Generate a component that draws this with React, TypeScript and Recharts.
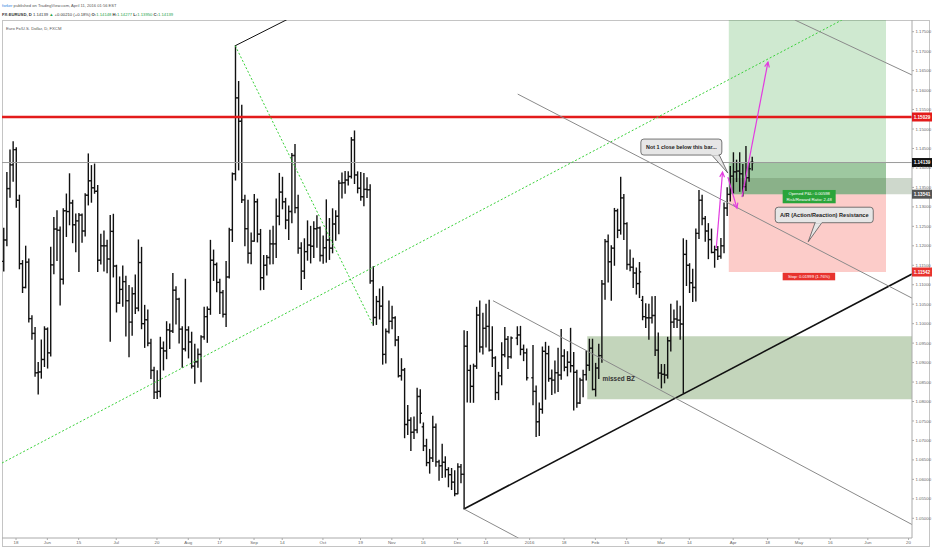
import React from "react";
import {
  ComposedChart,
  Bar,
  XAxis,
  YAxis,
  ReferenceLine,
  ReferenceArea,
  ReferenceDot,
} from "recharts";

// one row per weekday: [open, high, low, close], null = no session
type Ohlc = [number, number, number, number] | null;

// weekday counter, 0 = Mon 18 May 2015 (the first "18" on the time axis)
const firstDay = -4; // Tue 12 May 2015

const may2015: Ohlc[] = [
  [1.116, 1.1245, 1.1135, 1.1215], [1.1215, 1.1388, 1.12, 1.1347], [1.1347, 1.1446, 1.1325, 1.1408],
  [1.1408, 1.1467, 1.1366, 1.1447], [1.1447, 1.1452, 1.1299, 1.1317], [1.1317, 1.133, 1.1141, 1.1154],
  [1.1154, 1.1162, 1.108, 1.1093], [1.1093, 1.1199, 1.1092, 1.1158], [1.1158, 1.1166, 1.1004, 1.1013],
  [1.1013, 1.102, 1.096, 1.0975], [1.0975, 1.099, 1.0865, 1.0874], [1.0874, 1.09, 1.0819, 1.0876],
  [1.0876, 1.0958, 1.086, 1.0908], [1.0908, 1.0992, 1.089, 1.0986],
];
const jun2015: Ohlc[] = [
  [1.0986, 1.0989, 1.0886, 1.0925], [1.0925, 1.1196, 1.0917, 1.1151], [1.1151, 1.1273, 1.1128, 1.1243],
  [1.1243, 1.129, 1.1162, 1.124], [1.124, 1.1248, 1.1048, 1.1114], [1.1114, 1.1295, 1.1102, 1.129],
  [1.129, 1.1333, 1.1224, 1.1288], [1.1288, 1.1385, 1.1254, 1.131], [1.131, 1.1317, 1.1208, 1.1254],
  [1.1254, 1.1282, 1.1185, 1.1264], [1.1264, 1.1283, 1.1134, 1.1279], [1.1279, 1.1282, 1.1209, 1.1238],
  [1.1238, 1.1334, 1.1225, 1.133], [1.133, 1.1436, 1.1305, 1.1367], [1.1367, 1.1406, 1.1312, 1.1349],
  [1.1349, 1.141, 1.1335, 1.134], [1.134, 1.1355, 1.1134, 1.1163], [1.1163, 1.123, 1.1153, 1.12],
  [1.12, 1.1238, 1.1135, 1.12], [1.12, 1.1214, 1.1131, 1.1166], [1.1166, 1.1278, 1.0955, 1.1237],
  [1.1237, 1.1281, 1.112, 1.1148],
];
const jul2015: Ohlc[] = [
  [1.1148, 1.115, 1.103, 1.1053], [1.1053, 1.112, 1.1052, 1.1088], [1.1088, 1.1148, 1.1045, 1.1108],
  [1.1108, 1.1122, 1.0968, 1.1059], [1.1059, 1.1098, 1.0915, 1.1004], [1.1004, 1.1092, 1.097, 1.1077],
  [1.1077, 1.1125, 1.1026, 1.104], [1.104, 1.1215, 1.1033, 1.1157], [1.1157, 1.1196, 1.0987, 1.1],
  [1.1, 1.1047, 1.0939, 1.101], [1.101, 1.1035, 1.0943, 1.095], [1.095, 1.096, 1.0859, 1.088],
  [1.088, 1.0888, 1.0808, 1.0824], [1.0824, 1.0879, 1.0808, 1.0826], [1.0826, 1.0965, 1.0812, 1.0937],
  [1.0937, 1.0953, 1.0881, 1.093], [1.093, 1.1005, 1.091, 1.0984], [1.0984, 1.0999, 1.0936, 1.0981],
  [1.0981, 1.1129, 1.0977, 1.1086], [1.1086, 1.1095, 1.0999, 1.1063], [1.1063, 1.1065, 1.095, 1.0986],
  [1.0986, 1.0992, 1.0888, 1.0935], [1.0935, 1.1114, 1.093, 1.0984],
];
const aug2015: Ohlc[] = [
  [1.0984, 1.0992, 1.0912, 1.0953], [1.0953, 1.0978, 1.0886, 1.0891], [1.0891, 1.0947, 1.0847, 1.0902],
  [1.0902, 1.0935, 1.0888, 1.0921], [1.0921, 1.0969, 1.0851, 1.0966], [1.0966, 1.1042, 1.096, 1.1018],
  [1.1018, 1.1043, 1.0952, 1.1037], [1.1037, 1.1214, 1.1024, 1.1163], [1.1163, 1.1189, 1.1111, 1.1152],
  [1.1152, 1.1156, 1.1082, 1.1106], [1.1106, 1.1114, 1.1026, 1.108], [1.108, 1.1085, 1.1017, 1.1024],
  [1.1024, 1.116, 1.0993, 1.112], [1.112, 1.1245, 1.1117, 1.1241], [1.1241, 1.1387, 1.1211, 1.1385],
  [1.1385, 1.1714, 1.1369, 1.158], [1.158, 1.1622, 1.1395, 1.152], [1.152, 1.1561, 1.1311, 1.1318],
  [1.1318, 1.133, 1.12, 1.1244], [1.1244, 1.1317, 1.1156, 1.1181], [1.1181, 1.1233, 1.1154, 1.1212],
];
const sep2015: Ohlc[] = [
  [1.1212, 1.1332, 1.1212, 1.1313], [1.1313, 1.132, 1.121, 1.123], [1.123, 1.1242, 1.1087, 1.1118],
  [1.1118, 1.1175, 1.1088, 1.115], [1.115, 1.1175, 1.1125, 1.117], [1.117, 1.124, 1.1153, 1.1205],
  [1.1205, 1.125, 1.1154, 1.1205], [1.1205, 1.132, 1.117, 1.1276], [1.1276, 1.1386, 1.1254, 1.1338],
  [1.1338, 1.1376, 1.1295, 1.1313], [1.1313, 1.1322, 1.1244, 1.1266], [1.1266, 1.1302, 1.1216, 1.1288],
  [1.1288, 1.1437, 1.1259, 1.1432], [1.1432, 1.146, 1.1285, 1.1298], [1.1298, 1.133, 1.1181, 1.1194],
  [1.1194, 1.1208, 1.1088, 1.1135], [1.1135, 1.1218, 1.1116, 1.1185], [1.1185, 1.1264, 1.1163, 1.1202],
  [1.1202, 1.125, 1.1156, 1.1199], [1.1199, 1.1262, 1.117, 1.1244], [1.1244, 1.1277, 1.1196, 1.1246],
  [1.1246, 1.1248, 1.1161, 1.1175],
];
const oct2015: Ohlc[] = [
  [1.1175, 1.1225, 1.1155, 1.1195], [1.1195, 1.1318, 1.1158, 1.1215], [1.1215, 1.127, 1.1165, 1.1194],
  [1.1194, 1.1295, 1.1182, 1.1256], [1.1256, 1.129, 1.1214, 1.1276], [1.1276, 1.1367, 1.1231, 1.1361],
  [1.1361, 1.1387, 1.1323, 1.1362], [1.1362, 1.1391, 1.1335, 1.1369], [1.1369, 1.139, 1.1356, 1.1378],
  [1.1378, 1.1478, 1.1374, 1.1472], [1.1472, 1.1495, 1.136, 1.1382], [1.1382, 1.139, 1.1336, 1.1348],
  [1.1348, 1.1388, 1.1317, 1.1326], [1.1326, 1.1386, 1.1303, 1.1345], [1.1345, 1.1375, 1.1324, 1.1344],
  [1.1344, 1.1357, 1.1104, 1.111], [1.111, 1.1146, 1.0996, 1.1016], [1.1016, 1.107, 1.0998, 1.1057],
  [1.1057, 1.1089, 1.1012, 1.1045], [1.1045, 1.1095, 1.0896, 1.0921], [1.0921, 1.0986, 1.0899, 1.098],
  [1.098, 1.1058, 1.0976, 1.1006],
];
const nov2015: Ohlc[] = [
  [1.1006, 1.1045, 1.0987, 1.1015], [1.1015, 1.1018, 1.0943, 1.0958], [1.0958, 1.0967, 1.0863, 1.0866],
  [1.0866, 1.091, 1.0855, 1.0881], [1.0881, 1.0885, 1.0707, 1.0741], [1.0741, 1.079, 1.0715, 1.0752],
  [1.0752, 1.0758, 1.0674, 1.0721], [1.0721, 1.076, 1.0705, 1.0727], [1.0727, 1.0834, 1.072, 1.0813],
  [1.0813, 1.083, 1.0745, 1.077], [1.0735, 1.0745, 1.0674, 1.0686], [1.0686, 1.0703, 1.0635, 1.0643],
  [1.0643, 1.0677, 1.0616, 1.0655], [1.0655, 1.0762, 1.0646, 1.0734], [1.0734, 1.0742, 1.0634, 1.0645],
  [1.0645, 1.0649, 1.0598, 1.0635], [1.0635, 1.069, 1.0605, 1.0644], [1.0644, 1.0658, 1.0606, 1.0625],
  [1.0625, 1.063, 1.0581, 1.0612], [1.0612, 1.0628, 1.0574, 1.0593], [1.0593, 1.0622, 1.0558, 1.0563],
];
const dec2015: Ohlc[] = [
  [1.0563, 1.064, 1.0563, 1.0632], [1.0632, 1.0638, 1.0591, 1.0613], [1.0613, 1.0982, 1.0524, 1.0942],
  [1.0942, 1.098, 1.0799, 1.088], [1.088, 1.0893, 1.0798, 1.0839], [1.0839, 1.0896, 1.0798, 1.0891],
  [1.0891, 1.1042, 1.0885, 1.1022], [1.1022, 1.1058, 1.0927, 1.094], [1.094, 1.1027, 1.0922, 1.0988],
  [1.0988, 1.105, 1.094, 1.0993], [1.0993, 1.106, 1.093, 1.0932], [1.0932, 1.0992, 1.089, 1.0912],
  [1.0912, 1.0915, 1.0805, 1.0823], [1.0823, 1.0875, 1.0805, 1.0866], [1.0866, 1.0951, 1.0843, 1.092],
  [1.092, 1.099, 1.0915, 1.096], [1.096, 1.0967, 1.0885, 1.0915], [1.0915, 1.0966, 1.0912, 1.0963],
  null, [1.0963, 1.0992, 1.0946, 1.0971], [1.0971, 1.0993, 1.092, 1.0934], [1.0934, 1.0945, 1.0905, 1.0925],
  [1.0925, 1.0935, 1.0855, 1.0861],
];
const jan2016: Ohlc[] = [
  null, [1.0861, 1.0944, 1.0792, 1.0826], [1.0826, 1.084, 1.071, 1.0748], [1.0748, 1.0796, 1.0713, 1.078],
  [1.078, 1.094, 1.077, 1.0929], [1.0929, 1.0952, 1.0806, 1.0923], [1.0923, 1.0942, 1.0852, 1.0859],
  [1.0859, 1.0881, 1.0818, 1.0855], [1.0855, 1.0904, 1.0822, 1.0874], [1.0874, 1.0937, 1.0826, 1.0868],
  [1.0868, 1.0985, 1.0857, 1.0917], [1.0917, 1.0933, 1.0879, 1.0888], [1.0888, 1.0928, 1.0866, 1.0901],
  [1.0901, 1.0988, 1.0876, 1.0892], [1.0892, 1.0926, 1.0778, 1.0875], [1.0875, 1.088, 1.0785, 1.0796],
  [1.0796, 1.086, 1.0795, 1.0855], [1.0855, 1.088, 1.0812, 1.0869], [1.0869, 1.093, 1.0855, 1.0893],
  [1.0893, 1.096, 1.088, 1.0937], [1.0937, 1.096, 1.083, 1.0831],
];
const feb2016: Ohlc[] = [
  [1.0831, 1.0898, 1.0814, 1.0886], [1.0886, 1.0947, 1.0859, 1.0918], [1.0918, 1.1111, 1.0901, 1.1102],
  [1.1102, 1.1216, 1.1063, 1.1211], [1.1211, 1.1228, 1.1107, 1.1159], [1.1159, 1.12, 1.106, 1.1194],
  [1.1194, 1.1296, 1.115, 1.129], [1.129, 1.1294, 1.1221, 1.124], [1.124, 1.1376, 1.123, 1.1323],
  [1.1323, 1.1332, 1.1216, 1.1257], [1.1257, 1.1259, 1.114, 1.1152], [1.1152, 1.1189, 1.1136, 1.1145],
  [1.1145, 1.1168, 1.1093, 1.113], [1.113, 1.1143, 1.1076, 1.1103], [1.1103, 1.1157, 1.1067, 1.1133],
  [1.106, 1.107, 1.101, 1.1018], [1.1018, 1.1051, 1.099, 1.1015], [1.1015, 1.105, 1.096, 1.1015],
  [1.1015, 1.1069, 1.1002, 1.1021], [1.1021, 1.107, 1.0918, 1.0932], [1.0932, 1.0976, 1.086, 1.0873],
];
const mar2016: Ohlc[] = [
  [1.0873, 1.0895, 1.0835, 1.087], [1.087, 1.0895, 1.0848, 1.0868], [1.0868, 1.0965, 1.086, 1.0956],
  [1.0956, 1.105, 1.093, 1.1004], [1.1004, 1.1035, 1.099, 1.1012], [1.1012, 1.1058, 1.099, 1.1009],
  [1.1009, 1.1045, 1.096, 1.0999], [1.0999, 1.1218, 1.0822, 1.1178], [1.1178, 1.1214, 1.1098, 1.115],
  [1.115, 1.1154, 1.108, 1.1105], [1.1105, 1.114, 1.1057, 1.1093], [1.1093, 1.1243, 1.1058, 1.1232],
  [1.1232, 1.1342, 1.1219, 1.1317], [1.1317, 1.133, 1.1254, 1.127], [1.127, 1.1275, 1.1212, 1.1238],
  [1.1238, 1.1257, 1.1167, 1.1216], [1.1216, 1.1243, 1.1182, 1.1183], [1.1183, 1.1199, 1.1145, 1.119],
  [1.119, 1.1198, 1.1165, 1.1173], [1.1173, 1.1219, 1.1168, 1.12], [1.12, 1.131, 1.1182, 1.1297],
  [1.1297, 1.1349, 1.1278, 1.1332], [1.1332, 1.1404, 1.1315, 1.1379],
];
const apr2016: Ohlc[] = [
  [1.1379, 1.1439, 1.1336, 1.139], [1.139, 1.142, 1.1365, 1.1392], [1.1392, 1.1439, 1.134, 1.1385],
  [1.1385, 1.1409, 1.1328, 1.1352], [1.1352, 1.1455, 1.1342, 1.1375], [1.1375, 1.1414, 1.1366, 1.1398],
  [1.14148, 1.14277, 1.1395, 1.14139],
];

const months = [
  may2015, jun2015, jul2015, aug2015, sep2015, oct2015,
  nov2015, dec2015, jan2016, feb2016, mar2016, apr2016,
];

const dayTicks = [0, 10, 20, 32, 45, 55, 65, 76, 85, 98, 110, 120, 130, 141, 150, 164, 175, 185, 195, 206, 215, 229, 240, 250, 260, 272, 285];
const dayLabels = ["18", "Jun", "15", "Jul", "20", "Aug", "17", "Sep", "14", "Oct", "19", "Nov", "16", "Dec", "14", "2016", "18", "Feb", "15", "Mar", "14", "Apr", "18", "May", "16", "Jun", "20"];

const priceTicks = [
  1.05, 1.055, 1.06, 1.065, 1.07, 1.075, 1.08, 1.085, 1.09, 1.095, 1.1, 1.105, 1.11,
  1.115, 1.12, 1.125, 1.13, 1.135, 1.14, 1.145, 1.15, 1.155, 1.16, 1.165, 1.17, 1.175,
];

const lastPrice = 1.14139;
const resistance = 1.15309;
const entryPrice = 1.13326;
const stopPrice = 1.11327;

const data = months
  .flat()
  .map((row, k) =>
    row
      ? { day: firstDay + k, range: [row[2], row[1]], o: row[0], h: row[1], l: row[2], c: row[3] }
      : null
  )
  .filter(Boolean) as any[];

const FONT = "'Liberation Sans', Arial, sans-serif";
const MAGENTA = "#e23be0";

// OHLC bar: vertical high-low, open tick left, close tick right
function OhlcBar(props: any) {
  const { x, y, width, height, payload } = props;
  if (!payload || x == null) return null;
  const top = Math.min(y, y + height);
  const span = Math.abs(height);
  const cx = x + width / 2;
  const k = payload.h === payload.l ? 0 : span / (payload.h - payload.l);
  const yo = top + (payload.h - payload.o) * k;
  const yc = top + (payload.h - payload.c) * k;
  return (
    <g stroke="#111" strokeWidth={1.4}>
      <line x1={cx} x2={cx} y1={top - 0.5} y2={top + span + 0.5} />
      <line x1={cx - 1.7} x2={cx} y1={yo} y2={yo} />
      <line x1={cx} x2={cx + 1.7} y1={yc} y2={yc} />
    </g>
  );
}

function arrowLine(props: any) {
  const { x1, y1, x2, y2, clipPath } = props;
  const a = Math.atan2(y2 - y1, x2 - x1);
  const len = 5;
  const half = 2.4;
  const bx = x2 - len * Math.cos(a);
  const by = y2 - len * Math.sin(a);
  const px = -Math.sin(a) * half;
  const py = Math.cos(a) * half;
  return (
    <g clipPath={clipPath} stroke={MAGENTA} strokeWidth={1.2} fill="none">
      <line x1={x1} y1={y1} x2={x2} y2={y2} />
      <path d={`M${bx + px},${by + py} L${x2},${y2} L${bx - px},${by - py}`} />
    </g>
  );
}

// price tag in the right scale
function priceTag(text: string, bg: string) {
  return (props: any) => {
    const { cx, cy } = props;
    return (
      <g>
        <rect x={cx} y={cy - 4.5} width={20} height={9} fill={bg} />
        <text x={cx + 10} y={cy + 0.2} fontSize={4.6} fontWeight="bold" fill="#fff" textAnchor="middle" dominantBaseline="central" fontFamily={FONT}>
          {text}
        </text>
      </g>
    );
  };
}

function closeCallout(props: any) {
  const { cx, cy } = props;
  const bx = cx - 87;
  const by = cy - 34;
  return (
    <g fontFamily={FONT}>
      <path d={`M${cx - 17},${by + 15} L${cx},${cy} L${cx - 9},${by + 15} Z`} fill="#e6e6e6" stroke="#555" strokeWidth={0.8} />
      <rect x={bx} y={by} width={81} height={16} rx={3} fill="#e6e6e6" stroke="#555" strokeWidth={0.8} />
      <rect x={cx - 16.5} y={by + 14} width={7} height={2.5} fill="#e6e6e6" />
      <text x={bx + 40.5} y={by + 8.3} fontSize={5.4} fontWeight="bold" fill="#222" textAnchor="middle" dominantBaseline="central">
        Not 1 close below this bar...
      </text>
    </g>
  );
}

function arCallout(props: any) {
  const { cx, cy } = props;
  const bx = cx - 33;
  const by = cy - 34.5;
  return (
    <g fontFamily={FONT}>
      <path d={`M${cx + 7},${by + 15} L${cx},${cy} L${cx + 14},${by + 15} Z`} fill="#e6e6e6" stroke="#555" strokeWidth={0.8} />
      <rect x={bx} y={by} width={98} height={15.5} rx={3} fill="#e6e6e6" stroke="#555" strokeWidth={0.8} />
      <rect x={cx + 7.5} y={by + 13.5} width={6} height={2.5} fill="#e6e6e6" />
      <text x={bx + 49} y={by + 8} fontSize={5.6} fontWeight="bold" fill="#222" textAnchor="middle" dominantBaseline="central">
        A/R (Action/Reaction) Resistance
      </text>
    </g>
  );
}

function pnlBox(props: any) {
  const { cx, cy } = props;
  return (
    <g fontFamily={FONT}>
      <rect x={cx} y={cy} width={53} height={13.3} fill="#2aa43a" />
      <text x={cx + 26.5} y={cy + 4} fontSize={4.2} fill="#fff" textAnchor="middle" dominantBaseline="central">
        Opened P&amp;L: 0.00598
      </text>
      <text x={cx + 26.5} y={cy + 9.6} fontSize={4.2} fill="#fff" textAnchor="middle" dominantBaseline="central">
        Risk/Reward Ratio: 2.48
      </text>
    </g>
  );
}

function stopBox(props: any) {
  const { cx, cy } = props;
  return (
    <g fontFamily={FONT}>
      <rect x={cx} y={cy} width={52.5} height={7.6} fill="#e8332e" />
      <text x={cx + 26.25} y={cy + 3.9} fontSize={4.2} fill="#fff" textAnchor="middle" dominantBaseline="central">
        Stop: 0.01999 (1.76%)
      </text>
    </g>
  );
}

function zoneText(props: any) {
  const { cx, cy } = props;
  return (
    <text x={cx} y={cy} fontSize={6.4} fontWeight="bold" fill="#333" fontFamily={FONT}>
      missed BZ
    </text>
  );
}

export default function App() {
  return (
    <div style={{ position: "absolute", left: 0, top: 0, width: 932, height: 550, background: "#fff", overflow: "hidden" }}>
      <svg width={932} height={20} style={{ position: "absolute", left: 0, top: 0 }} fontFamily={FONT}>
        <text x={2} y={7.2} fontSize={4.1}>
          <tspan fill="#2b7de0">forker</tspan>
          <tspan fill="#555"> published on TradingView.com, April 11, 2016 01:56 EST</tspan>
        </text>
        <text x={2} y={15.8} fontSize={4.2} fill="#333">
          <tspan fontWeight="bold">FX:EURUSD, D </tspan>
          <tspan>1.14139 </tspan>
          <tspan fill="#26a34a">▲</tspan>
          <tspan> +0.00210 (+0.18%) </tspan>
          <tspan fontWeight="bold">O:</tspan>
          <tspan fill="#26a34a">1.14148 </tspan>
          <tspan fontWeight="bold">H:</tspan>
          <tspan fill="#26a34a">1.14277 </tspan>
          <tspan fontWeight="bold">L:</tspan>
          <tspan fill="#26a34a">1.13950 </tspan>
          <tspan fontWeight="bold">C:</tspan>
          <tspan fill="#26a34a">1.14139</tspan>
        </text>
      </svg>
      <div style={{ position: "absolute", left: 2, top: 20, width: 928, height: 527, border: "1px solid #c4c4c4", boxSizing: "border-box" }} />
      <div style={{ position: "absolute", left: 0, top: 0 }}>
        <ComposedChart width={932} height={550} data={data} margin={{ top: 20, right: 0, bottom: 0, left: 2 }}>
          <XAxis
            dataKey="day"
            type="number"
            domain={[-4.48, 286.1]}
            allowDataOverflow
            ticks={dayTicks}
            interval={0}
            tickFormatter={(v: number) => dayLabels[dayTicks.indexOf(v)] ?? ""}
            height={12}
            tickSize={2}
            tickMargin={1}
            tick={{ fontSize: 4.4, fill: "#666", fontFamily: FONT }}
            axisLine={{ stroke: "#aaa" }}
            tickLine={{ stroke: "#aaa" }}
          />
          <YAxis
            orientation="right"
            type="number"
            domain={[1.044939, 1.178006]}
            allowDataOverflow
            ticks={priceTicks}
            interval={0}
            tickFormatter={(v: number) => v.toFixed(5)}
            width={20}
            tickSize={2}
            tickMargin={1.5}
            tick={{ fontSize: 4.3, fill: "#666", fontFamily: FONT }}
            axisLine={{ stroke: "#aaa" }}
            tickLine={{ stroke: "#aaa" }}
          />

          {/* zones */}
          <ReferenceArea x1={182.4} x2={286.1} y1={1.08061} y2={1.09679} fill="#88ab77" fillOpacity={0.5} stroke="none" ifOverflow="hidden" />
          <ReferenceArea x1={227.6} x2={277.8} y1={entryPrice} y2={1.178} fill="#4caf50" fillOpacity={0.27} stroke="none" ifOverflow="hidden" />
          <ReferenceArea x1={227.6} x2={277.8} y1={stopPrice} y2={entryPrice} fill="#f44336" fillOpacity={0.27} stroke="none" ifOverflow="hidden" />
          <ReferenceArea x1={227.6} x2={277.8} y1={entryPrice} y2={lastPrice} fill="#2e7d32" fillOpacity={0.3} stroke="none" ifOverflow="hidden" />
          <ReferenceArea x1={227.6} x2={286.1} y1={entryPrice} y2={1.13739} fill="#5d7f55" fillOpacity={0.3} stroke="none" ifOverflow="hidden" />

          <Bar dataKey="range" shape={OhlcBar} isAnimationActive={false} />

          {/* horizontal levels */}
          <ReferenceLine y={resistance} stroke="#e31b1b" strokeWidth={2.5} ifOverflow="hidden" />
          <ReferenceLine y={lastPrice} stroke="#9a9a9a" strokeWidth={1} ifOverflow="hidden" />

          {/* trend lines */}
          <ReferenceLine segment={[{ x: 70, y: 1.1714 }, { x: 86.5, y: 1.1781 }]} stroke="#111" strokeWidth={1} ifOverflow="hidden" />
          <ReferenceLine segment={[{ x: 70, y: 1.1714 }, { x: 114, y: 1.0996 }]} stroke="#3ad13a" strokeWidth={1} strokeDasharray="2 2" ifOverflow="hidden" />
          <ReferenceLine segment={[{ x: -4.48, y: 1.0642 }, { x: 263.7, y: 1.178 }]} stroke="#3ad13a" strokeWidth={1} strokeDasharray="2 2" ifOverflow="hidden" />
          <ReferenceLine segment={[{ x: 143, y: 1.0524 }, { x: 286.1, y: 1.11276 }]} stroke="#111" strokeWidth={1.6} ifOverflow="hidden" />
          <ReferenceLine segment={[{ x: 160.2, y: 1.15897 }, { x: 286.1, y: 1.10656 }]} stroke="#8a8a8a" strokeWidth={1} ifOverflow="hidden" />
          <ReferenceLine segment={[{ x: 152.3, y: 1.1059 }, { x: 286.1, y: 1.0484 }]} stroke="#8a8a8a" strokeWidth={1} ifOverflow="hidden" />
          <ReferenceLine segment={[{ x: 143, y: 1.0524 }, { x: 160.5, y: 1.0449 }]} stroke="#8a8a8a" strokeWidth={1} ifOverflow="hidden" />
          <ReferenceLine segment={[{ x: 248.7, y: 1.178 }, { x: 286.1, y: 1.16388 }]} stroke="#8a8a8a" strokeWidth={1} ifOverflow="hidden" />

          {/* projected moves */}
          <ReferenceLine segment={[{ x: 223.6, y: 1.11939 }, { x: 225.6, y: 1.13893 }]} shape={arrowLine} ifOverflow="hidden" />
          <ReferenceLine segment={[{ x: 227.3, y: 1.13766 }, { x: 230.2, y: 1.12969 }]} shape={arrowLine} ifOverflow="hidden" />
          <ReferenceLine segment={[{ x: 231.8, y: 1.1325 }, { x: 240.1, y: 1.16718 }]} shape={arrowLine} ifOverflow="hidden" />

          {/* notes */}
          <ReferenceDot x={187.3} y={1.08527} r={1} shape={zoneText} ifOverflow="visible" />
          <ReferenceDot x={227.3} y={1.13869} r={1} shape={closeCallout} ifOverflow="visible" />
          <ReferenceDot x={252.97} y={1.12105} r={1} shape={arCallout} ifOverflow="visible" />
          <ReferenceDot x={244.8} y={1.13434} r={1} shape={pnlBox} ifOverflow="visible" />
          <ReferenceDot x={244.8} y={1.11309} r={1} shape={stopBox} ifOverflow="visible" />

          {/* scale tags */}
          <ReferenceDot x={286.1} y={resistance} r={1} shape={priceTag("1.15029", "#e31b1b")} ifOverflow="visible" />
          <ReferenceDot x={286.1} y={lastPrice} r={1} shape={priceTag("1.14139", "#111")} ifOverflow="visible" />
          <ReferenceDot x={286.1} y={entryPrice} r={1} shape={priceTag("1.13541", "#555")} ifOverflow="visible" />
          <ReferenceDot x={286.1} y={stopPrice} r={1} shape={priceTag("1.11542", "#e8332e")} ifOverflow="visible" />
        </ComposedChart>
      </div>
      <svg width={120} height={40} style={{ position: "absolute", left: 0, top: 20 }} fontFamily={FONT}>
        <text x={6} y={9.5} fontSize={4.2} fill="#555">
          Euro Fx/U.S. Dollar, D, FXCM
        </text>
      </svg>
    </div>
  );
}
